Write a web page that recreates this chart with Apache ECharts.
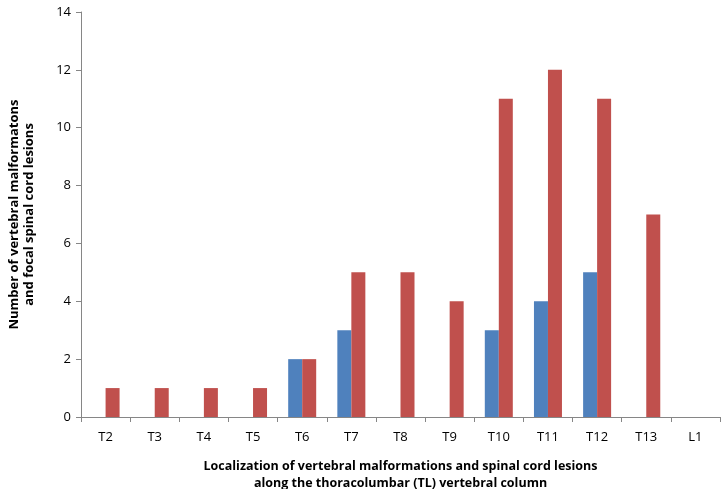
<!DOCTYPE html>
<html>
<head>
<meta charset="utf-8">
<script src="https://cdn.jsdelivr.net/npm/echarts@6/dist/echarts.min.js"></script>
<style>
  html, body { margin: 0; padding: 0; background: #fff; }
  #chart { width: 724px; height: 489px; }
</style>
</head>
<body>
<div id="chart"></div>
<script>
  const categories = ['T2', 'T3', 'T4', 'T5', 'T6', 'T7', 'T8', 'T9', 'T10', 'T11', 'T12', 'T13', 'L1'];
  // blue series (vertebral malformations)
  const blueValues = [0, 0, 0, 0, 2, 3, 0, 0, 3, 4, 5, 0, 0];
  // red series (spinal cord lesions)
  const redValues = [1, 1, 1, 1, 2, 5, 5, 4, 11, 12, 11, 7, 0];

  const axisColor = '#868686';
  const fontFamily = '"Open Sans", "DejaVu Sans", sans-serif';

  const chart = echarts.init(document.getElementById('chart'));

  const option = {
    animation: false,
    grid: { left: 81, right: 4, top: 12, bottom: 72, containLabel: false, outerBoundsMode: 'none' },
    xAxis: {
      type: 'category',
      data: categories,
      name: 'Localization of vertebral malformations and spinal cord lesions\nalong the thoracolumbar (TL) vertebral column',
      nameLocation: 'middle',
      nameGap: 41,
      nameTextStyle: { fontFamily, fontSize: 12.5, fontWeight: 'bold', color: '#000', lineHeight: 17 },
      axisLine: { lineStyle: { color: axisColor } },
      axisTick: { show: true, length: 5, lineStyle: { color: axisColor } },
      axisLabel: { fontFamily, fontSize: 13, color: '#000', margin: 14 },
      splitLine: { show: false }
    },
    yAxis: {
      type: 'value',
      min: 0,
      max: 14,
      interval: 2,
      name: 'Number of vertebral malformatons\nand focal spinal cord lesions',
      nameLocation: 'middle',
      nameRotate: 90,
      nameGap: 44,
      nameTextStyle: { fontFamily, fontSize: 13, fontWeight: 'bold', color: '#000', lineHeight: 15 },
      axisLine: { show: true, lineStyle: { color: axisColor } },
      axisTick: { show: true, length: 5, lineStyle: { color: axisColor } },
      axisLabel: { fontFamily, fontSize: 13, color: '#000', margin: 10 },
      splitLine: { show: false }
    },
    series: [
      {
        type: 'bar',
        data: blueValues,
        barWidth: 14,
        barGap: '0%',
        itemStyle: { color: '#4F81BD' }
      },
      {
        type: 'bar',
        data: redValues,
        barWidth: 14,
        barGap: '0%',
        itemStyle: { color: '#C0504D' }
      }
    ]
  };

  chart.setOption(option);
</script>
</body>
</html>
